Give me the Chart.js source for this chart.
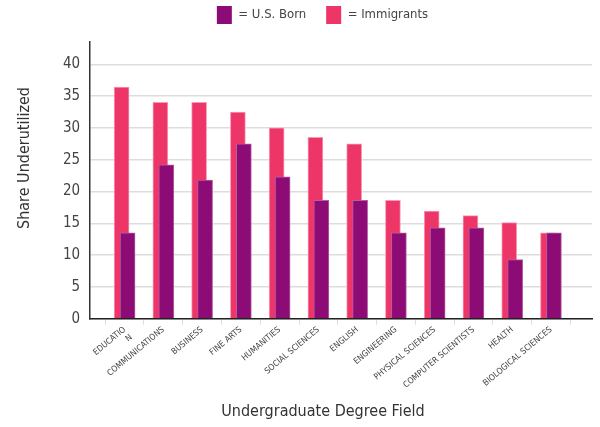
<!DOCTYPE html>
<html>
<head>
<meta charset="utf-8">
<script src="https://cdn.jsdelivr.net/npm/chart.js@4"></script>
<style>
  html, body { margin: 0; padding: 0; background: #fff; }
  #wrap { width: 600px; height: 427px; }
</style>
</head>
<body>
<div id="wrap"><canvas id="chart" width="600" height="427"></canvas></div>
<script>
// ── data ──────────────────────────────────
var fields = [
  ['EDUCATIO', 'N'], 'COMMUNICATIONS', 'BUSINESS', 'FINE ARTS', 'HUMANITIES',
  'SOCIAL SCIENCES', 'ENGLISH', 'ENGINEERING', 'PHYSICAL SCIENCES',
  'COMPUTER SCIENTISTS', 'HEALTH', 'BIOLOGICAL SCIENCES'
];
var usBorn     = [13.5, 24.2, 21.8, 27.5, 22.3, 18.6, 18.6, 13.5, 14.3, 14.3, 9.3, 13.5];
var immigrants = [36.4, 34.0, 34.0, 32.5, 30.0, 28.5, 27.5, 18.6, 16.9, 16.2, 15.1, 13.5];
var yTicks     = [0, 5, 10, 15, 20, 25, 30, 35, 40];
var xTitle     = 'Undergraduate Degree Field';
var yTitle     = 'Share Underutilized';

var FONT   = "'DejaVu Sans Condensed', 'DejaVu Sans', sans-serif";
var PURPLE = '#8c0b75';
var PINK   = '#ee3567';

function points(arr) {
  return arr.map(function (v, i) { return { x: i, y: v }; });
}

// hidden x axes shift each series a few px off the category centre so the bars overlap
function hiddenX(min, max) {
  return { type: 'linear', display: false, offset: false, min: min, max: max };
}

// a bit more room between the legend and the plot
var legendGap = {
  id: 'legendGap',
  beforeInit: function (chart) {
    var fit = chart.legend.fit;
    chart.legend.fit = function () {
      fit.call(this);
      this.height += 8;
    };
  },
};

// axis titles sit off-centre in the original, so draw them by hand
var axisTitles = {
  id: 'axisTitles',
  afterDraw: function (chart) {
    var c = chart.ctx;
    c.save();
    c.fillStyle = '#333';
    c.font = '16px ' + FONT;
    c.textAlign = 'center';
    c.textBaseline = 'middle';
    c.fillText(xTitle, 323, 412);
    c.translate(25, 158);
    c.rotate(-Math.PI / 2);
    c.fillText(yTitle, 0, 0);
    c.restore();
  },
};

new Chart(document.getElementById('chart').getContext('2d'), {
  type: 'bar',
  data: {
    datasets: [
      {
        label: 'U.S. Born', data: points(usBorn), xAxisID: 'xb',
        backgroundColor: PURPLE, borderColor: '#b45ea4', borderWidth: 1,
        borderSkipped: 'bottom', barThickness: 15, grouped: false,
      },
      {
        label: 'Immigrants', data: points(immigrants), xAxisID: 'xa',
        backgroundColor: PINK, borderColor: '#f79ab4', borderWidth: 1,
        borderSkipped: 'bottom', barThickness: 15, grouped: false,
      },
    ],
  },
  options: {
    responsive: false,
    animation: false,
    layout: { padding: { top: -14, right: 8, left: 53, bottom: 29 } },
    plugins: {
      tooltip: { enabled: false },
      legend: {
        position: 'top',
        labels: {
          boxWidth: 15, boxHeight: 18, padding: 20,
          color: '#444', font: { family: FONT, size: 13 },
          generateLabels: function (chart) {
            return Chart.defaults.plugins.legend.labels.generateLabels(chart).map(function (l) {
              l.text = '= ' + l.text;
              l.lineWidth = 0;
              return l;
            });
          },
        },
      },
    },
    scales: {
      x: {
        type: 'linear', position: 'bottom', offset: false,
        min: -0.888, max: 12.059,
        afterBuildTicks: function (s) {
          s.ticks = fields.map(function (_, i) { return { value: i }; });
        },
        ticks: {
          autoSkip: false, minRotation: 40, maxRotation: 40, padding: 0,
          color: '#444', font: { family: FONT, size: 8.5 },
          callback: function (v) { return fields[v]; },
        },
        grid: { drawOnChartArea: false, drawTicks: true, tickLength: 6, color: '#ddd' },
        border: { display: true, color: '#222', width: 1.5 },
      },
      xa: hiddenX(-0.811, 12.136),
      xb: hiddenX(-0.965, 11.982),
      y: {
        min: 0, max: 43.5,
        afterBuildTicks: function (s) {
          s.ticks = yTicks.map(function (v) { return { value: v }; });
        },
        ticks: { color: '#444', padding: 10, font: { family: FONT, size: 15 } },
        grid: { color: '#ddd', lineWidth: 1.5, drawTicks: false },
        border: { display: true, color: '#333', width: 1.5 },
      },
    },
  },
  plugins: [legendGap, axisTitles],
});
</script>
</body>
</html>
